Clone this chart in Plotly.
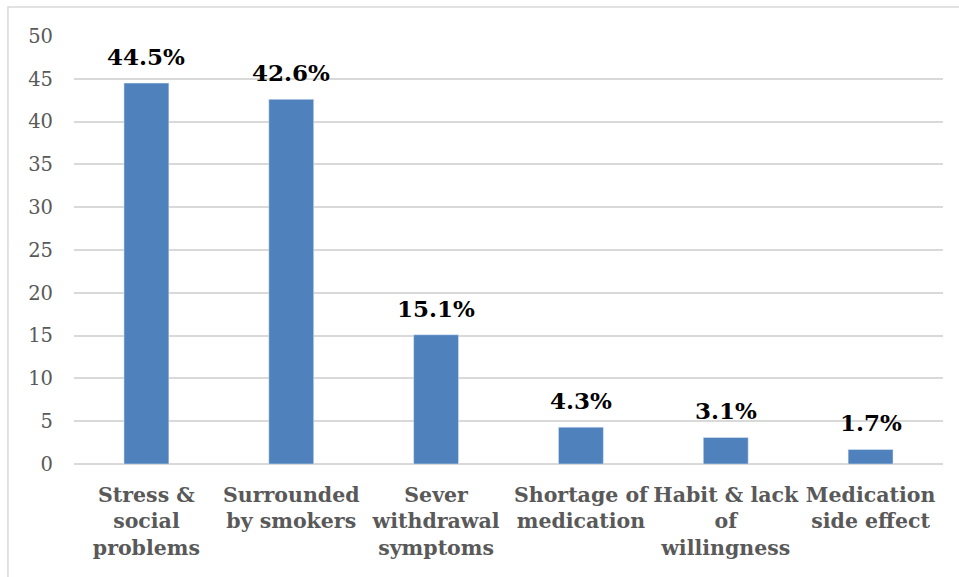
import plotly.graph_objects as go

categories = [
    "Stress &<br>social<br>problems",
    "Surrounded<br>by smokers",
    "Sever<br>withdrawal<br>symptoms",
    "Shortage of<br>medication",
    "Habit & lack<br>of<br>willingness",
    "Medication<br>side effect",
]
values = [44.5, 42.6, 15.1, 4.3, 3.1, 1.7]
labels = [f"{v:.1f}%" for v in values]
y_ticks = list(range(0, 51, 5))

SERIF = "'DejaVu Serif', serif"

fig = go.Figure(
    go.Bar(
        x=categories,
        y=values,
        marker=dict(color="#4F81BD"),
        width=0.31,
        hoverinfo="x+y",
    )
)

# value labels placed just above each bar
for cat, val, lab in zip(categories, values, labels):
    fig.add_annotation(
        x=cat,
        y=val,
        text=f"<b>{lab}</b>",
        showarrow=False,
        yanchor="bottom",
        yshift=11,
        font=dict(family=SERIF, size=23, color="#000000"),
    )

fig.update_layout(
    width=959,
    height=577,
    margin=dict(l=74, r=16, t=36, b=113),
    paper_bgcolor="white",
    plot_bgcolor="white",
    showlegend=False,
    xaxis=dict(
        showgrid=False,
        showline=False,
        ticks="",
        tickfont=dict(family=SERIF, size=20.5, color="#595959", weight="bold"),
        ticklabelstandoff=16,
    ),
    yaxis=dict(
        range=[0, 50],
        tickvals=y_ticks,
        showgrid=True,
        gridcolor="#D9D9D9",
        gridwidth=1.5,
        zeroline=True,
        zerolinecolor="#D9D9D9",
        zerolinewidth=1.5,
        showline=False,
        ticks="",
        tickfont=dict(family=SERIF, size=19.5, color="#595959"),
        ticklabelstandoff=20,
    ),
    shapes=[
        dict(
            type="rect",
            xref="paper",
            yref="paper",
            x0=-0.076,
            x1=1.06,
            y0=-0.5,
            y1=1.068,
            line=dict(color="#D9D9D9", width=1.5),
            fillcolor="rgba(0,0,0,0)",
            layer="below",
        )
    ],
)

fig.write_html("out.html")
